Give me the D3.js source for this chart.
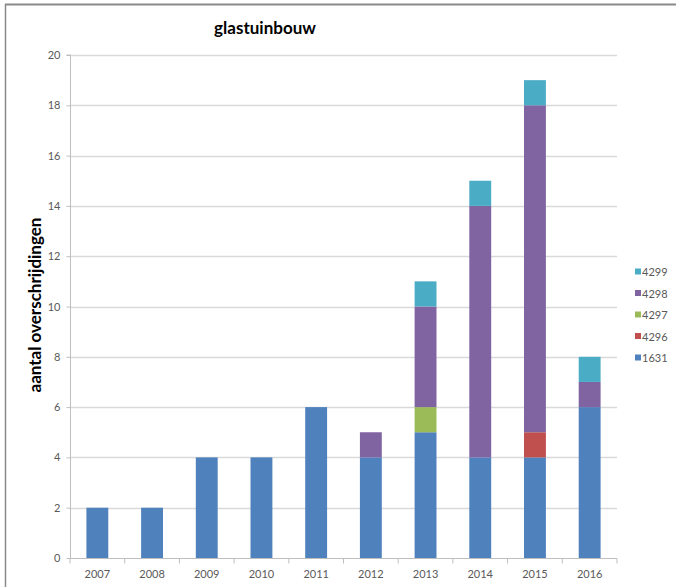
<!DOCTYPE html>
<html>
<head>
<meta charset="utf-8">
<script src="https://cdn.jsdelivr.net/npm/d3@7"></script>
<style>
  html, body { margin: 0; padding: 0; background: #fff; }
  svg { display: block; }
</style>
</head>
<body>
<svg id="chart" width="676" height="587"></svg>
<script>
// Years on the x axis
const years = ["2007", "2008", "2009", "2010", "2011", "2012", "2013", "2014", "2015", "2016"];
// Stack order from bottom to top
const seriesKeys = ["1631", "4296", "4297", "4298", "4299"];
// Counts per series, one value per year
const s1631 = [2, 2, 4, 4, 6, 4, 5, 4, 4, 6];
const s4296 = [0, 0, 0, 0, 0, 0, 0, 0, 1, 0];
const s4297 = [0, 0, 0, 0, 0, 0, 1, 0, 0, 0];
const s4298 = [0, 0, 0, 0, 0, 1, 4, 10, 13, 1];
const s4299 = [0, 0, 0, 0, 0, 0, 1, 1, 1, 1];
const yTicks = [0, 2, 4, 6, 8, 10, 12, 14, 16, 18, 20];
const colors = ["#4F81BD", "#C0504D", "#9BBB59", "#8064A2", "#4BACC6"];

const valuesByKey = { "1631": s1631, "4296": s4296, "4297": s4297, "4298": s4298, "4299": s4299 };
const rows = years.map((yr, i) => {
  const r = { year: yr };
  seriesKeys.forEach(k => { r[k] = valuesByKey[k][i]; });
  return r;
});

const svg = d3.select("#chart");
const font = "Lato, 'Open Sans', sans-serif";

// outer frame (top and left edges)
svg.append("line").attr("x1", 5).attr("x2", 676).attr("y1", 4.5).attr("y2", 4.5)
  .attr("stroke", "#8a8a8a").attr("stroke-width", 2);
svg.append("line").attr("x1", 5.5).attr("x2", 5.5).attr("y1", 4).attr("y2", 587)
  .attr("stroke", "#8a8a8a").attr("stroke-width", 1.5);

const plot = { left: 70, right: 617, top: 55, bottom: 558 };

const x = d3.scaleBand().domain(years).range([plot.left, plot.right]).paddingInner(0.6).paddingOuter(0.3);
const y = d3.scaleLinear().domain([0, 20]).range([plot.bottom, plot.top]);

// horizontal gridlines
svg.append("g").selectAll("line").data(yTicks.filter(t => t > 0)).join("line")
  .attr("x1", plot.left).attr("x2", plot.right)
  .attr("y1", d => Math.round(y(d)) + 0.5).attr("y2", d => Math.round(y(d)) + 0.5)
  .attr("stroke", "#d9d9d9").attr("stroke-width", 1.5);

// stacked bars
const stack = d3.stack().keys(seriesKeys)(rows);
svg.append("g").selectAll("g").data(stack).join("g")
  .attr("fill", (d, i) => colors[i])
  .selectAll("rect").data(d => d.filter(p => p[1] - p[0] > 0)).join("rect")
  .attr("x", d => x(d.data.year))
  .attr("width", x.bandwidth())
  .attr("y", d => y(d[1]))
  .attr("height", d => y(d[0]) - y(d[1]));

// y axis
const yAxis = d3.axisLeft(y).tickValues(yTicks).tickSize(4).tickPadding(6);
const gy = svg.append("g").attr("transform", `translate(${plot.left + 0.5},0)`).call(yAxis);
gy.select(".domain").attr("stroke", "#bfbfbf").attr("d", `M-4,${plot.top}H0V${plot.bottom}`);
gy.selectAll(".tick line").attr("stroke", "#bfbfbf");
gy.selectAll("text").attr("fill", "#595959").style("font", `11px ${font}`);

// x axis with ticks on category boundaries
const gx = svg.append("g").attr("transform", `translate(0,${plot.bottom + 0.5})`);
gx.append("line").attr("x1", plot.left).attr("x2", plot.right).attr("stroke", "#bfbfbf");
const bounds = d3.range(years.length + 1).map(i => plot.left + i * (plot.right - plot.left) / years.length);
gx.selectAll("line.tk").data(bounds).join("line").attr("class", "tk")
  .attr("x1", d => d).attr("x2", d => d).attr("y1", 0).attr("y2", 5).attr("stroke", "#bfbfbf");
gx.selectAll("text").data(years).join("text")
  .attr("x", d => x(d) + x.bandwidth() / 2).attr("y", 19)
  .attr("text-anchor", "middle").attr("fill", "#595959")
  .style("font", `11px ${font}`).text(d => d);

// title
svg.append("text").attr("x", 265).attr("y", 34).attr("text-anchor", "middle")
  .attr("fill", "#000").style("font", `bold 17px ${font}`).text("glastuinbouw");

// y axis title
svg.append("text").attr("transform", "translate(41,305) rotate(-90)")
  .attr("text-anchor", "middle").attr("fill", "#000")
  .style("font", `bold 17px ${font}`).text("aantal overschrijdingen");

// legend, top entry is the top of the stack
const legendKeys = seriesKeys.slice().reverse();
const lg = svg.append("g").selectAll("g").data(legendKeys).join("g")
  .attr("transform", (d, i) => `translate(635,${272 + i * 21.5})`);
lg.append("rect").attr("x", 0).attr("y", -3.5).attr("width", 6).attr("height", 6)
  .attr("fill", d => colors[seriesKeys.indexOf(d)]);
lg.append("text").attr("x", 7).attr("y", 4).attr("fill", "#595959")
  .style("font", `11px ${font}`).text(d => d);
</script>
</body>
</html>
